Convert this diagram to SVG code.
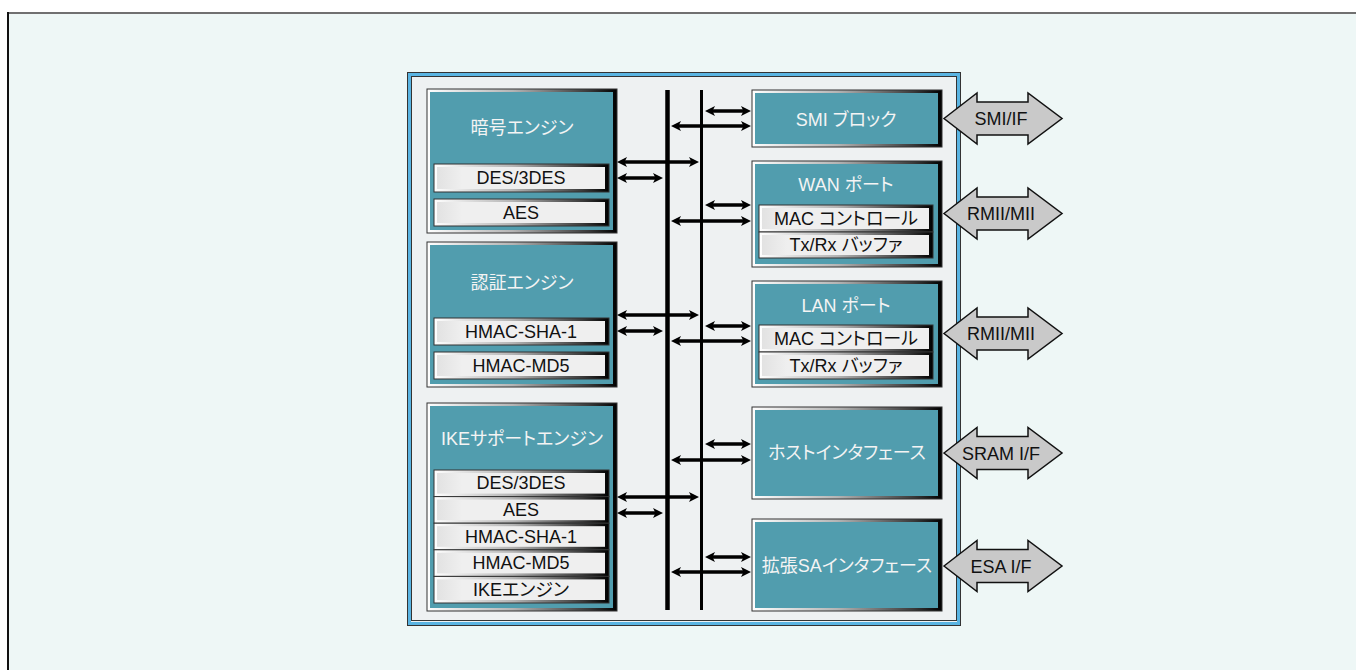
<svg xmlns="http://www.w3.org/2000/svg" width="1356" height="670" viewBox="0 0 1356 670">
<defs>
<style>
text{font-family:"Liberation Sans","Noto Sans CJK JP",sans-serif;font-feature-settings:"palt";text-anchor:middle;dominant-baseline:central}
.title{fill:#f4f4f4;font-size:18px}
.lbl{fill:#111;font-size:18px}
.frame{fill:url(#edge);stroke:#333;stroke-width:1}
.teal{fill:#519dae}
.barin{fill:url(#barfill)}
.bus{stroke:#000;fill:none}
.arr{stroke:#000;stroke-width:3.5;fill:none;marker-start:url(#ah);marker-end:url(#ah)}
.fat{fill:#c9c9c9;stroke:#111;stroke-width:1.5;stroke-linejoin:miter}
</style>
<linearGradient id="edge" x1="0" y1="0" x2="1" y2="0">
<stop offset="0" stop-color="#ffffff"/>
<stop offset="0.45" stop-color="#b4b4b4"/>
<stop offset="0.85" stop-color="#3a3a3a"/>
<stop offset="1" stop-color="#000000"/>
</linearGradient>
<linearGradient id="barfill" x1="0" y1="0" x2="1" y2="0">
<stop offset="0" stop-color="#e2e2e2"/>
<stop offset="0.15" stop-color="#efefef"/>
<stop offset="1" stop-color="#efefef"/>
</linearGradient>
<marker id="ah" viewBox="0 0 10 10" refX="6" refY="5" markerWidth="10" markerHeight="10" markerUnits="userSpaceOnUse" orient="auto-start-reverse">
<path d="M0,0 L10,5 L0,10 L2.5,5 Z" fill="#000"/>
</marker>
</defs>

<rect x="0" y="0" width="1356" height="670" fill="#ffffff"/>
<g id="outer-frame">
<rect x="8" y="13" width="1360" height="670" fill="#eef7f6"/>
<line x1="8" y1="13" x2="1356" y2="13" stroke="#707070" stroke-width="2"/>
<line x1="8" y1="12" x2="8" y2="670" stroke="#111" stroke-width="2"/>
</g>

<g id="chip">
<rect x="407.5" y="72.5" width="553" height="553" fill="#eef2f3" stroke="#333" stroke-width="1"/>
<rect x="409.5" y="74.5" width="549" height="549" fill="none" stroke="#5ab4e2" stroke-width="3"/>
<rect x="411.5" y="76.5" width="545" height="544" fill="#eef1f2" stroke="#333" stroke-width="1"/>
</g>

<g id="crypto-engine">
<rect class="frame" x="427" y="89" width="190" height="144"/>
<rect class="teal" x="430" y="92" width="183" height="138"/>
<text class="title" x="522" y="128">暗号エンジン</text>
<rect class="frame" x="434" y="164" width="175" height="28" stroke="#111"/>
<rect class="barin" x="437" y="167" width="168" height="22"/>
<text class="lbl" x="521" y="178">DES/3DES</text>
<rect class="frame" x="434" y="199" width="175" height="27" stroke="#111"/>
<rect class="barin" x="437" y="202" width="168" height="21"/>
<text class="lbl" x="521" y="212.5">AES</text>
</g>

<g id="auth-engine">
<rect class="frame" x="427" y="242" width="190" height="145"/>
<rect class="teal" x="430" y="245" width="183" height="139"/>
<text class="title" x="522" y="283">認証エンジン</text>
<rect class="frame" x="434" y="318" width="175" height="27" stroke="#111"/>
<rect class="barin" x="437" y="321" width="168" height="21"/>
<text class="lbl" x="521" y="331.5">HMAC-SHA-1</text>
<rect class="frame" x="434" y="352" width="175" height="27" stroke="#111"/>
<rect class="barin" x="437" y="355" width="168" height="21"/>
<text class="lbl" x="521" y="365.5">HMAC-MD5</text>
</g>

<g id="ike-engine">
<rect class="frame" x="427" y="403" width="190" height="208"/>
<rect class="teal" x="430" y="406" width="183" height="202"/>
<text class="title" x="522" y="439">IKEサポートエンジン</text>
<rect class="frame" x="434" y="470" width="175" height="26.6" stroke="#111"/>
<rect class="barin" x="437" y="473" width="168" height="20.6"/>
<text class="lbl" x="521" y="483.3">DES/3DES</text>
<rect class="frame" x="434" y="496.6" width="175" height="26.6" stroke="#111"/>
<rect class="barin" x="437" y="499.6" width="168" height="20.6"/>
<text class="lbl" x="521" y="509.9">AES</text>
<rect class="frame" x="434" y="523.2" width="175" height="26.6" stroke="#111"/>
<rect class="barin" x="437" y="526.2" width="168" height="20.6"/>
<text class="lbl" x="521" y="536.5">HMAC-SHA-1</text>
<rect class="frame" x="434" y="549.8" width="175" height="26.6" stroke="#111"/>
<rect class="barin" x="437" y="552.8" width="168" height="20.6"/>
<text class="lbl" x="521" y="563.1">HMAC-MD5</text>
<rect class="frame" x="434" y="576.4" width="175" height="26.6" stroke="#111"/>
<rect class="barin" x="437" y="579.4" width="168" height="20.6"/>
<text class="lbl" x="521" y="589.7">IKEエンジン</text>
</g>

<g id="smi-block">
<rect class="frame" x="752" y="90" width="190" height="57"/>
<rect class="teal" x="755" y="93" width="183" height="51"/>
<text class="title" x="846" y="120">SMI ブロック</text>
</g>

<g id="wan-port">
<rect class="frame" x="752" y="161" width="190" height="106"/>
<rect class="teal" x="755" y="164" width="183" height="100"/>
<text class="title" x="846" y="185">WAN ポート</text>
<rect class="frame" x="759" y="205" width="174" height="27" stroke="#111"/>
<rect class="barin" x="762" y="208" width="167" height="21"/>
<text class="lbl" x="846" y="218.5">MAC コントロール</text>
<rect class="frame" x="759" y="232" width="174" height="26" stroke="#111"/>
<rect class="barin" x="762" y="235" width="167" height="20"/>
<text class="lbl" x="846" y="245">Tx/Rx バッファ</text>
</g>

<g id="lan-port">
<rect class="frame" x="752" y="281" width="190" height="106"/>
<rect class="teal" x="755" y="284" width="183" height="100"/>
<text class="title" x="846" y="306">LAN ポート</text>
<rect class="frame" x="759" y="325" width="174" height="27" stroke="#111"/>
<rect class="barin" x="762" y="328" width="167" height="21"/>
<text class="lbl" x="846" y="338.5">MAC コントロール</text>
<rect class="frame" x="759" y="352" width="174" height="27" stroke="#111"/>
<rect class="barin" x="762" y="355" width="167" height="21"/>
<text class="lbl" x="846" y="365.5">Tx/Rx バッファ</text>
</g>

<g id="host-if">
<rect class="frame" x="752" y="407" width="190" height="92"/>
<rect class="teal" x="755" y="410" width="183" height="86"/>
<text class="title" x="847" y="453">ホストインタフェース</text>
</g>

<g id="esa-if">
<rect class="frame" x="752" y="519" width="190" height="92"/>
<rect class="teal" x="755" y="522" width="183" height="86"/>
<text class="title" x="847" y="566">拡張SAインタフェース</text>
</g>

<g id="connectors">
<line class="bus" x1="667.5" y1="90" x2="667.5" y2="610" stroke-width="4.5"/>
<line class="bus" x1="701.5" y1="90" x2="701.5" y2="610" stroke-width="3"/>
<line class="arr" x1="709" y1="111" x2="747" y2="111"/>
<line class="arr" x1="675" y1="126" x2="747" y2="126"/>
<line class="arr" x1="621" y1="162" x2="695" y2="162"/>
<line class="arr" x1="621" y1="178" x2="659" y2="178"/>
<line class="arr" x1="709" y1="205" x2="747" y2="205"/>
<line class="arr" x1="675" y1="221" x2="747" y2="221"/>
<line class="arr" x1="621" y1="315" x2="695" y2="315"/>
<line class="arr" x1="621" y1="331" x2="659" y2="331"/>
<line class="arr" x1="709" y1="326" x2="747" y2="326"/>
<line class="arr" x1="675" y1="341" x2="747" y2="341"/>
<line class="arr" x1="709" y1="444" x2="747" y2="444"/>
<line class="arr" x1="675" y1="460" x2="747" y2="460"/>
<line class="arr" x1="621" y1="497" x2="695" y2="497"/>
<line class="arr" x1="621" y1="513" x2="659" y2="513"/>
<line class="arr" x1="709" y1="557" x2="747" y2="557"/>
<line class="arr" x1="675" y1="572" x2="747" y2="572"/>
</g>

<g id="ext-smi">
<path class="fat" d="M944,118.5 L977,93 L977,102 L1028,102 L1028,93 L1062,118.5 L1028,144 L1028,135 L977,135 L977,144 Z"/>
<text class="lbl" x="1001" y="119">SMI/IF</text>
</g>
<g id="ext-wan">
<path class="fat" d="M944,213.5 L977,188 L977,197 L1028,197 L1028,188 L1062,213.5 L1028,239 L1028,230 L977,230 L977,239 Z"/>
<text class="lbl" x="1001" y="214">RMII/MII</text>
</g>
<g id="ext-lan">
<path class="fat" d="M944,333.5 L977,308 L977,317 L1028,317 L1028,308 L1062,333.5 L1028,359 L1028,350 L977,350 L977,359 Z"/>
<text class="lbl" x="1001" y="334">RMII/MII</text>
</g>
<g id="ext-sram">
<path class="fat" d="M944,453 L977,427.5 L977,436.5 L1028,436.5 L1028,427.5 L1062,453 L1028,478.5 L1028,469.5 L977,469.5 L977,478.5 Z"/>
<text class="lbl" x="1001" y="453.5">SRAM I/F</text>
</g>
<g id="ext-esa">
<path class="fat" d="M944,566 L977,540.5 L977,549.5 L1028,549.5 L1028,540.5 L1062,566 L1028,591.5 L1028,582.5 L977,582.5 L977,591.5 Z"/>
<text class="lbl" x="1001" y="566.5">ESA I/F</text>
</g>
</svg>
